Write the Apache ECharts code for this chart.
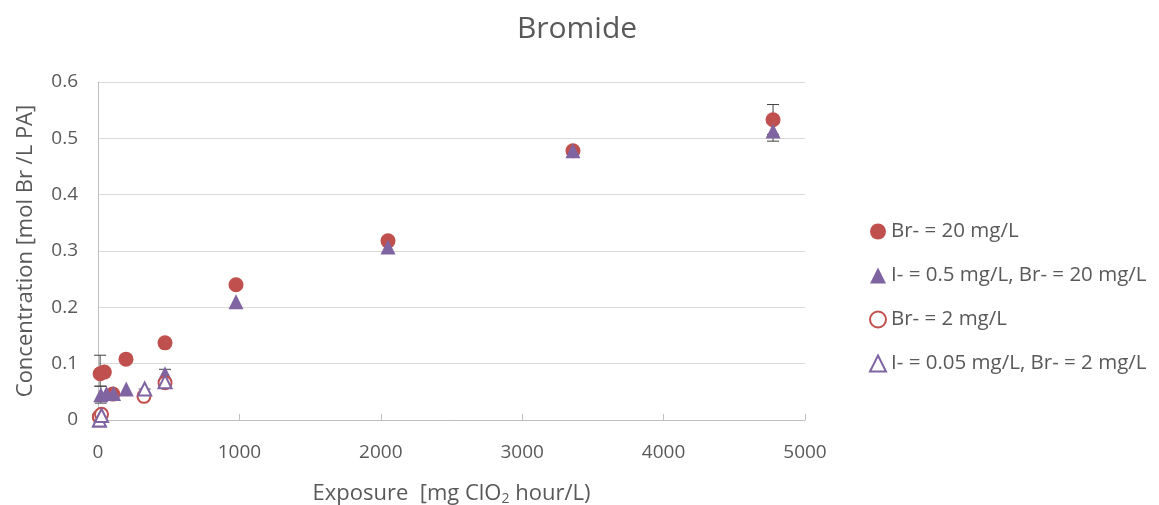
<!DOCTYPE html>
<html>
<head>
<meta charset="utf-8">
<script src="https://cdn.jsdelivr.net/npm/echarts@6/dist/echarts.min.js"></script>
<style>
  html, body { margin: 0; padding: 0; background: #fff; }
  #chart { width: 1159px; height: 505px; }
</style>
</head>
<body>
<div id="chart"></div>
<script>
// Bromide formation vs. ClO2 exposure
const seriesNames = [
  'Br- = 20 mg/L',
  'I- = 0.5 mg/L, Br- = 20 mg/L',
  'Br- = 2 mg/L',
  'I- = 0.05 mg/L, Br- = 2 mg/L'
];

// [exposure, concentration]
const br20 = [[10, 0.005], [15, 0.082], [45, 0.085], [105, 0.046], [198, 0.108], [474, 0.137], [976, 0.240], [2051, 0.318], [3359, 0.478], [4774, 0.533]];
const i05br20 = [[10, 0.000], [20, 0.045], [60, 0.047], [110, 0.047], [200, 0.055], [474, 0.082], [976, 0.210], [2051, 0.307], [3359, 0.478], [4774, 0.513]];
const br2 = [[10, 0.006], [25, 0.010], [325, 0.042], [474, 0.066]];
const i005br2 = [[10, 0.000], [25, 0.008], [330, 0.055], [474, 0.068]];

// error bars: [exposure, low, high]
const errBars = [[15, 0.060, 0.115], [20, 0.030, 0.060], [474, 0.058, 0.090], [330, 0.048, 0.055], [4774, 0.507, 0.560], [4774, 0.495, 0.530]];

const xTicks = [0, 1000, 2000, 3000, 4000, 5000];
const yTicks = [0, 0.1, 0.2, 0.3, 0.4, 0.5, 0.6];

const RED = '#C0504D';
const PURPLE = '#8064A2';
const FONT = '"Open Sans", "Noto Sans", sans-serif';
const TXT = '#595959';

const chart = echarts.init(document.getElementById('chart'));

function errItem(params, api) {
  const x = api.value(0);
  const lo = api.coord([x, api.value(1)]);
  const hi = api.coord([x, api.value(2)]);
  const w = 6;
  const style = { stroke: '#404040', lineWidth: 1 };
  return {
    type: 'group',
    children: [
      { type: 'line', shape: { x1: lo[0], y1: lo[1], x2: hi[0], y2: hi[1] }, style },
      { type: 'line', shape: { x1: lo[0] - w, y1: lo[1], x2: lo[0] + w, y2: lo[1] }, style },
      { type: 'line', shape: { x1: hi[0] - w, y1: hi[1], x2: hi[0] + w, y2: hi[1] }, style }
    ]
  };
}

chart.setOption({
  animation: false,
  textStyle: { fontFamily: FONT },
  title: {
    text: 'Bromide',
    left: 572,
    top: 9,
    textAlign: 'center',
    textStyle: { fontFamily: FONT, fontSize: 30, fontWeight: 'normal', color: TXT }
  },
  legend: {
    orient: 'vertical',
    left: 864,
    top: 216,
    itemGap: 23,
    itemWidth: 16,
    itemHeight: 16,
    textStyle: { fontFamily: FONT, fontSize: 20.5, color: TXT },
    data: [
      { name: seriesNames[0], icon: 'circle' },
      { name: seriesNames[1], icon: 'triangle' },
      { name: seriesNames[2], icon: 'circle' },
      { name: seriesNames[3], icon: 'triangle' }
    ]
  },
  grid: { left: 98, right: 354, top: 82, bottom: 85, containLabel: false, outerBoundsMode: 'none' },
  xAxis: {
    type: 'value',
    min: 0, max: 5000, interval: 1000,
    name: 'Exposure  [mg ClO{sub|2} hour/L)',
    nameLocation: 'middle',
    nameGap: 62,
    nameTextStyle: {
      fontFamily: FONT, fontSize: 22, color: TXT,
      rich: { sub: { fontFamily: FONT, fontSize: 14, color: TXT, verticalAlign: 'bottom', padding: [10, 0, 0, 0] } }
    },
    axisLine: { show: true, lineStyle: { color: '#bfbfbf' } },
    axisTick: { show: true, inside: true, length: 6, lineStyle: { color: '#bfbfbf' } },
    axisLabel: { fontFamily: FONT, fontSize: 19, color: TXT, margin: 23, formatter: v => xTicks.includes(v) ? String(v) : '' },
    splitLine: { show: false }
  },
  yAxis: {
    type: 'value',
    min: 0, max: 0.6, interval: 0.1,
    name: 'Concentration [mol Br /L PA]',
    nameLocation: 'middle',
    nameGap: 61,
    nameTextStyle: { fontFamily: FONT, fontSize: 22, color: TXT },
    axisLine: { show: true, lineStyle: { color: '#bfbfbf' } },
    axisTick: { show: false },
    axisLabel: {
      fontFamily: FONT, fontSize: 19, color: TXT, margin: 20,
      formatter: v => {
        const t = yTicks.find(k => Math.abs(k - v) < 1e-9);
        return t === undefined ? '' : String(t);
      }
    },
    splitLine: { show: true, lineStyle: { color: '#d9d9d9' } }
  },
  series: [
    {
      name: 'err', type: 'custom', renderItem: errItem, data: errBars,
      encode: { x: 0, y: [1, 2] }, z: 1, silent: true
    },
    {
      name: seriesNames[0], type: 'scatter', data: br20,
      symbol: 'circle', symbolSize: 15,
      itemStyle: { color: RED, opacity: 1 }, z: 3
    },
    {
      name: seriesNames[1], type: 'scatter', data: i05br20,
      symbol: 'triangle', symbolSize: 15,
      itemStyle: { color: PURPLE, opacity: 1 }, z: 4
    },
    {
      name: seriesNames[2], type: 'scatter', data: br2,
      symbol: 'circle', symbolSize: 13,
      itemStyle: { color: '#fff', borderColor: RED, borderWidth: 2, opacity: 1 }, z: 5
    },
    {
      name: seriesNames[3], type: 'scatter', data: i005br2,
      symbol: 'triangle', symbolSize: 13,
      itemStyle: { color: '#fff', borderColor: PURPLE, borderWidth: 2, opacity: 1 }, z: 6
    }
  ]
});
</script>
</body>
</html>
